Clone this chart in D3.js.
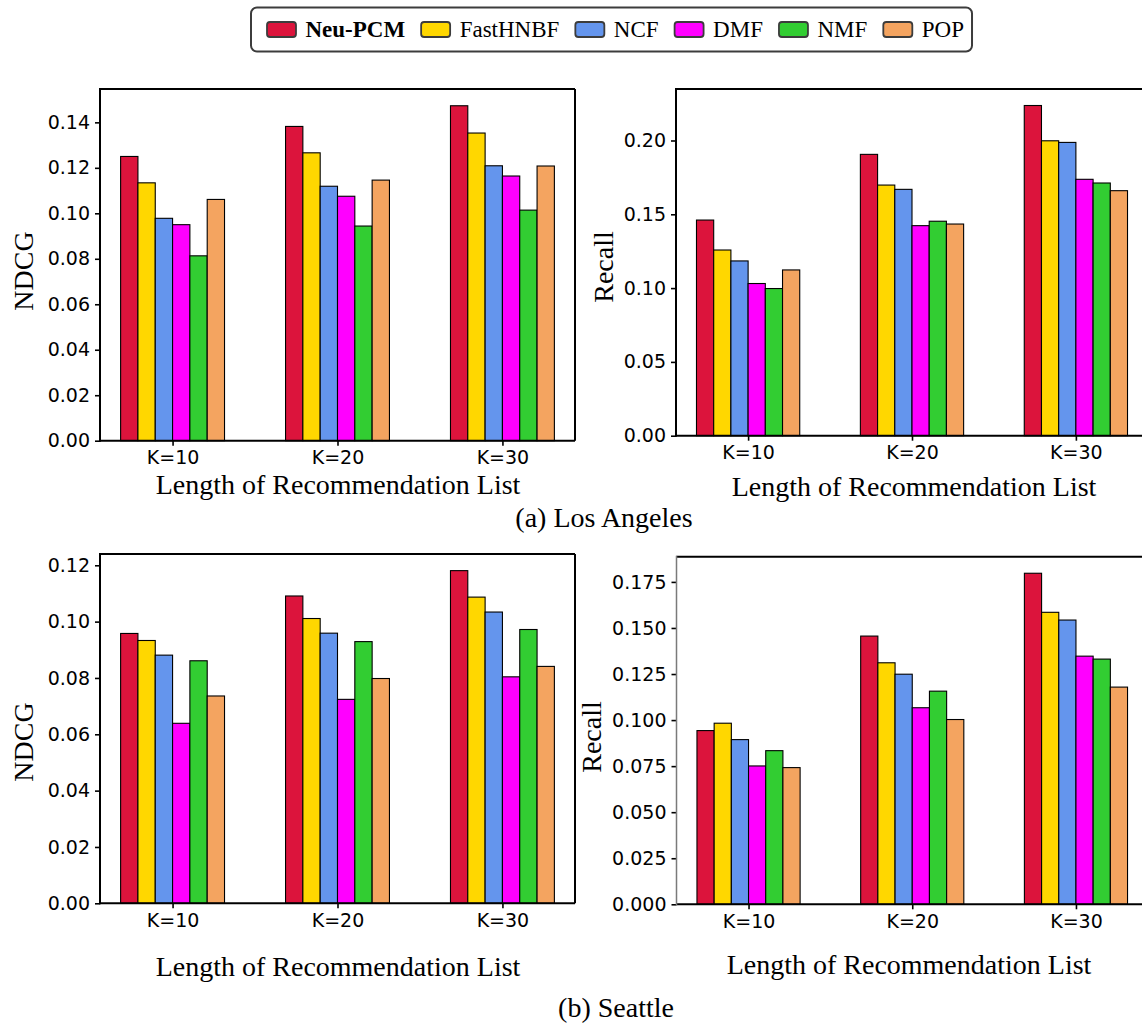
<!DOCTYPE html>
<html>
<head>
<meta charset="utf-8">
<script src="https://cdn.jsdelivr.net/npm/d3@7/dist/d3.min.js"></script>
<style>
  html, body { margin: 0; padding: 0; background: #fff; }
  svg { display: block; }
</style>
</head>
<body>
<svg id="chart" width="1142" height="1027"></svg>
<script>
// ---------------- DATA ----------------
const methods = ["Neu-PCM", "FastHNBF", "NCF", "DMF", "NMF", "POP"];
const categories = ["K=10", "K=20", "K=30"];
const colors = ["#DC143C", "#FFD700", "#6495ED", "#FF00FF", "#32CD32", "#F4A460"];

// rows = categories (K=10, K=20, K=30), columns = methods
const laNDCG = [
  [0.1250, 0.1134, 0.0978, 0.0950, 0.0813, 0.1061],
  [0.1382, 0.1266, 0.1119, 0.1075, 0.0944, 0.1146],
  [0.1473, 0.1353, 0.1209, 0.1164, 0.1014, 0.1208]
];
const laRecall = [
  [0.1461, 0.1258, 0.1184, 0.1031, 0.0997, 0.1123],
  [0.1906, 0.1698, 0.1669, 0.1423, 0.1453, 0.1434],
  [0.2237, 0.1998, 0.1987, 0.1737, 0.1712, 0.1660]
];
const seNDCG = [
  [0.0958, 0.0933, 0.0881, 0.0639, 0.0861, 0.0736],
  [0.1091, 0.1011, 0.0959, 0.0724, 0.0929, 0.0798],
  [0.1181, 0.1087, 0.1034, 0.0804, 0.0972, 0.0841]
];
const seRecall = [
  [0.0943, 0.0983, 0.0894, 0.0751, 0.0834, 0.0742],
  [0.1456, 0.1311, 0.1249, 0.1067, 0.1157, 0.1003],
  [0.1797, 0.1585, 0.1543, 0.1347, 0.1331, 0.1179]
];

const ticksLaNDCG = [0.00, 0.02, 0.04, 0.06, 0.08, 0.10, 0.12, 0.14];
const ticksLaRecall = [0.00, 0.05, 0.10, 0.15, 0.20];
const ticksSeNDCG = [0.00, 0.02, 0.04, 0.06, 0.08, 0.10, 0.12];
const ticksSeRecall = [0.000, 0.025, 0.050, 0.075, 0.100, 0.125, 0.150, 0.175];

const xTitle = "Length of Recommendation List";
const subtitles = ["(a) Los Angeles", "(b) Seattle"];

// ---------------- LAYOUT ----------------
const svg = d3.select("#chart");
const TICK_FONT = "'DejaVu Sans', sans-serif";
const SERIF = "'Liberation Serif', 'Times New Roman', serif";
const barW = 0.105; // bar width in x-data units

const panels = [
  { data: laNDCG, ticks: ticksLaNDCG, fmt: ".2f", label: "NDCG",
    x0: 100, x1: 575, yTop: 89, yBot: 440.7, yl: [23, 271], xl: [338, 494], leftSpine: "#000" },
  { data: laRecall, ticks: ticksLaRecall, fmt: ".2f", label: "Recall",
    x0: 676, x1: 1148, yTop: 89, yBot: 435.7, yl: [603, 267], xl: [914, 496], leftSpine: "#000" },
  { data: seNDCG, ticks: ticksSeNDCG, fmt: ".2f", label: "NDCG",
    x0: 100, x1: 575, yTop: 554, yBot: 903.3, yl: [23, 742], xl: [338, 976], leftSpine: "#000" },
  { data: seRecall, ticks: ticksSeRecall, fmt: ".3f", label: "Recall",
    x0: 676.5, x1: 1148, yTop: 556.7, yBot: 904.3, yl: [591, 737], xl: [909, 974], leftSpine: "#7a7a7a" }
];

panels.forEach(p => {
  const g = svg.append("g");
  const maxV = d3.max(p.data.flat());
  const x = d3.scaleLinear().domain([-0.44, 2.44]).range([p.x0, p.x1]);
  const y = d3.scaleLinear().domain([0, maxV * 1.05]).range([p.yBot, p.yTop]);

  // bars
  p.data.forEach((row, ci) => {
    g.selectAll(null)
      .data(row)
      .enter()
      .append("rect")
      .attr("x", (d, mi) => x(ci + (mi - 2.5) * barW - barW / 2))
      .attr("width", x(barW) - x(0))
      .attr("y", d => y(d))
      .attr("height", d => y(0) - y(d))
      .attr("fill", (d, mi) => colors[mi])
      .attr("stroke", "#000")
      .attr("stroke-width", 1.1);
  });

  // y axis
  const yAxis = d3.axisLeft(y).tickValues(p.ticks).tickFormat(d3.format(p.fmt))
    .tickSize(5).tickPadding(5);
  const ya = g.append("g").attr("transform", `translate(${p.x0},0)`).call(yAxis);
  ya.select(".domain").remove();
  ya.selectAll(".tick line").attr("stroke", "#000").attr("stroke-width", 1.6);
  ya.selectAll(".tick text").attr("font-family", TICK_FONT).attr("font-size", 19).attr("fill", "#000");

  // x axis
  const xAxis = d3.axisBottom(x).tickValues([0, 1, 2]).tickFormat(i => categories[i])
    .tickSize(5).tickPadding(5);
  const xa = g.append("g").attr("transform", `translate(0,${p.yBot})`).call(xAxis);
  xa.select(".domain").remove();
  xa.selectAll(".tick line").attr("stroke", "#000").attr("stroke-width", 1.6);
  xa.selectAll(".tick text").attr("font-family", TICK_FONT).attr("font-size", 19).attr("fill", "#000");

  // frame
  const fw = 2;
  g.append("line").attr("x1", p.x0).attr("x2", p.x1).attr("y1", p.yTop).attr("y2", p.yTop)
    .attr("stroke", "#000").attr("stroke-width", fw);
  g.append("line").attr("x1", p.x0).attr("x2", p.x1).attr("y1", p.yBot).attr("y2", p.yBot)
    .attr("stroke", "#000").attr("stroke-width", fw);
  g.append("line").attr("x1", p.x1).attr("x2", p.x1).attr("y1", p.yTop).attr("y2", p.yBot)
    .attr("stroke", "#000").attr("stroke-width", fw);
  g.append("line").attr("x1", p.x0).attr("x2", p.x0).attr("y1", p.yTop - 1).attr("y2", p.yBot + 1)
    .attr("stroke", p.leftSpine).attr("stroke-width", p.leftSpine === "#000" ? fw : 1.5);

  // y label
  g.append("text")
    .attr("transform", `translate(${p.yl[0]},${p.yl[1]}) rotate(-90)`)
    .attr("text-anchor", "middle")
    .attr("dominant-baseline", "central")
    .attr("font-family", SERIF).attr("font-size", 28).attr("fill", "#000")
    .text(p.label);

  // x label
  g.append("text")
    .attr("x", p.xl[0]).attr("y", p.xl[1])
    .attr("text-anchor", "middle")
    .attr("font-family", SERIF).attr("font-size", 28).attr("fill", "#000")
    .text(xTitle);
});

// subtitles
svg.append("text").attr("x", 604).attr("y", 527).attr("text-anchor", "middle")
  .attr("font-family", SERIF).attr("font-size", 28).attr("fill", "#000").text(subtitles[0]);
svg.append("text").attr("x", 616).attr("y", 1017).attr("text-anchor", "middle")
  .attr("font-family", SERIF).attr("font-size", 28).attr("fill", "#000").text(subtitles[1]);

// ---------------- LEGEND ----------------
const leg = svg.append("g");
const box = leg.append("rect")
  .attr("x", 251).attr("y", 7.5).attr("height", 44).attr("rx", 6).attr("ry", 6)
  .attr("fill", "#fff").attr("stroke", "#3c3c3c").attr("stroke-width", 2);
let cx = 267;
methods.forEach((m, i) => {
  leg.append("rect")
    .attr("x", cx).attr("y", 22).attr("width", 29).attr("height", 15)
    .attr("rx", 3).attr("ry", 3)
    .attr("fill", colors[i]).attr("stroke", "#3c3c3c").attr("stroke-width", 1.8);
  const t = leg.append("text")
    .attr("x", cx + 38.5).attr("y", 36.8)
    .attr("font-family", SERIF).attr("font-size", 23).attr("fill", "#000")
    .attr("font-weight", i === 0 ? "bold" : "normal")
    .text(m);
  const w = t.node().getComputedTextLength();
  cx = cx + 38.5 + w + 16;
});
box.attr("width", Math.max(cx - 16 + 8 - 251, 716));
</script>
</body>
</html>
